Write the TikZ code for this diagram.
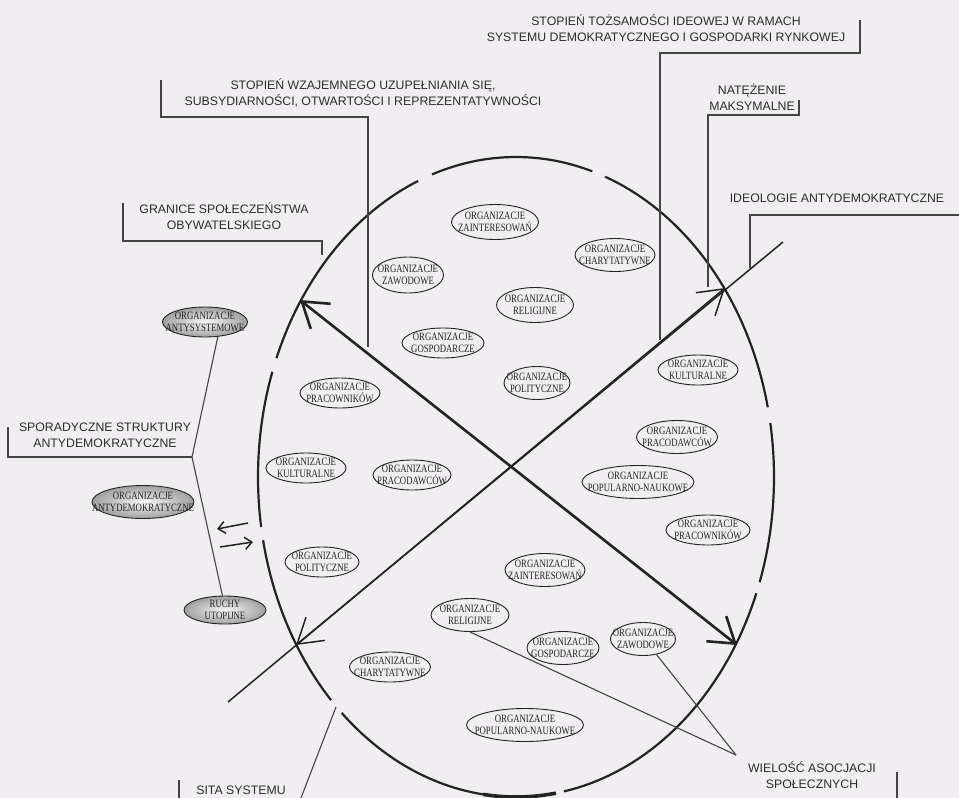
\documentclass[tikz,border=0pt]{standalone}
\usepackage{fontspec}
\setmainfont{Liberation Serif}
\newfontfamily\lblfont{Liberation Sans}
\newfontfamily\orgfont[FakeStretch=0.78]{Liberation Serif}
\usetikzlibrary{shapes.geometric, arrows.meta}
\definecolor{tlo}{RGB}{240,238,240}
\definecolor{kreska}{RGB}{35,35,35}
\definecolor{napis}{RGB}{45,45,45}

\begin{document}
\begin{tikzpicture}[x=1pt, y=-1pt,
  lbl/.style={font=\lblfont\fontsize{12.3}{16}\selectfont, text=napis, align=center, inner sep=0pt},
  lead/.style={draw=kreska!85, line width=1.1pt},
  org/.style n args={2}{ellipse, draw=kreska, line width=0.9pt, minimum width=#1, minimum height=#2, inner sep=0pt},
  orgtxt/.style={font=\orgfont\fontsize{11.2}{11.5}\selectfont, align=center, inner sep=0pt, text=kreska},
  ciemny/.style={shade, inner color=gray!5, outer color=gray!75},
  rim/.style={line width=2.2pt, draw=kreska},
  barb/.style={line width=#1, draw=kreska, -{Straight Barb[length=24pt, width=30pt]}}
]
  \useasboundingbox (0,0) rectangle (959,798);
  \fill[tlo] (0,0) rectangle (959,798);

  % granica (elipsa z przerwami)
  \coordinate (C) at (516,477);
  \foreach \a/\b in {12.6/69.8, 72.8/109, 112.3/158.2, 160.8/189, 191.4/224.2, 227.5/278.9, 280.7/338.7, 340.8/369.7}
    \draw[rim] plot[domain=\a:\b, samples=40, variable=\t] ({516+258*cos(\t)},{477-320*sin(\t)});
  \draw[rim, line width=3.6pt] plot[domain=262.7:278.9, samples=20, variable=\t] ({516+258*cos(\t)},{477-320*sin(\t)});

  % osie
  \coordinate (tl) at (300,300);
  \coordinate (br) at (737,645);
  \coordinate (ll) at (228,702);
  \coordinate (ur) at (783,242);
  \coordinate (lltip) at (296,645);
  \coordinate (urtip) at (725,288);
  \draw[line width=2.6pt, draw=kreska, {Straight Barb[length=24pt, width=32pt]}-{Straight Barb[length=24pt, width=32pt]}] (tl) -- (br);
  \draw[barb=1.5pt] (ur) -- (lltip);
  \draw[barb=1.5pt] (ll) -- (urtip);

  % strzalki na granicy
  \coordinate (wyA) at (248,523);
  \coordinate (wyB) at (217,529);
  \coordinate (weA) at (220,547);
  \coordinate (weB) at (253,542);
  \draw[line width=1.5pt, draw=kreska, -{Straight Barb[length=7pt, width=12pt]}] (wyA) -- (wyB);
  \draw[line width=1.5pt, draw=kreska, -{Straight Barb[length=7pt, width=12pt]}] (weA) -- (weB);

  % organizacje
  \node[org={87}{35}, label={[orgtxt]center:ORGANIZACJE\\ZAINTERESOWAŃ}] (zainA) at (495,222) {};
  \node[org={80}{33}, label={[orgtxt]center:ORGANIZACJE\\CHARYTATYWNE}] (charA) at (615,255) {};
  \node[org={71}{36}, label={[orgtxt]center:ORGANIZACJE\\ZAWODOWE}] (zawA) at (408,275) {};
  \node[org={77}{35}, label={[orgtxt]center:ORGANIZACJE\\RELIGIJNE}] (relA) at (535,305) {};
  \node[org={82}{30}, label={[orgtxt]center:ORGANIZACJE\\GOSPODARCZE}] (gospA) at (443,343) {};
  \node[org={66}{33}, label={[orgtxt]center:ORGANIZACJE\\POLITYCZNE}] (polA) at (537,383) {};
  \node[org={80}{30}, label={[orgtxt]center:ORGANIZACJE\\PRACOWNIKÓW}] (pracA) at (340,393) {};
  \node[org={80}{30}, label={[orgtxt]center:ORGANIZACJE\\KULTURALNE}] (kultA) at (698,370) {};
  \node[org={81}{33}, label={[orgtxt]center:ORGANIZACJE\\PRACODAWCÓW}] (pdawA) at (677,437) {};
  \node[org={112}{33}, label={[orgtxt]center:ORGANIZACJE\\POPULARNO-NAUKOWE}] (popA) at (638,482) {};
  \node[org={84}{30}, label={[orgtxt]center:ORGANIZACJE\\PRACOWNIKÓW}] (pracB) at (708,530) {};
  \node[org={80}{30}, label={[orgtxt]center:ORGANIZACJE\\KULTURALNE}] (kultB) at (306,468) {};
  \node[org={78}{30}, label={[orgtxt]center:ORGANIZACJE\\PRACODAWCÓW}] (pdawB) at (412,475) {};
  \node[org={74}{30}, label={[orgtxt]center:ORGANIZACJE\\POLITYCZNE}] (polB) at (322,562) {};
  \node[org={80}{33}, label={[orgtxt]center:ORGANIZACJE\\ZAINTERESOWAŃ}] (zainB) at (545,570) {};
  \node[org={78}{33}, label={[orgtxt]center:ORGANIZACJE\\RELIGIJNE}] (relB) at (470,615) {};
  \node[org={72}{33}, label={[orgtxt]center:ORGANIZACJE\\GOSPODARCZE}] (gospB) at (563,648) {};
  \node[org={65}{33}, label={[orgtxt]center:ORGANIZACJE\\ZAWODOWE}] (zawB) at (643,639) {};
  \node[org={81}{30}, label={[orgtxt]center:ORGANIZACJE\\CHARYTATYWNE}] (charB) at (390,667) {};
  \node[org={117}{33}, label={[orgtxt]center:ORGANIZACJE\\POPULARNO-NAUKOWE}] (popB) at (525,725) {};

  % struktury antydemokratyczne
  \node[org={85}{30}, ciemny, label={[orgtxt]center:ORGANIZACJE\\ANTYSYSTEMOWE}] (antys) at (205,322) {};
  \node[org={102}{33}, ciemny, label={[orgtxt]center:ORGANIZACJE\\ANTYDEMOKRATYCZNE}] (antyd) at (143,502) {};
  \node[org={82}{28}, ciemny, label={[orgtxt]center:RUCHY\\UTOPIJNE}] (ruchy) at (225,610) {};

  % opisy
  \node[lbl] (tozs) at (666,28) {STOPIEŃ TOŻSAMOŚCI IDEOWEJ W RAMACH\\SYSTEMU DEMOKRATYCZNEGO I GOSPODARKI RYNKOWEJ};
  \node[lbl] (wzaj) at (363,93) {STOPIEŃ WZAJEMNEGO UZUPEŁNIANIA SIĘ,\\SUBSYDIARNOŚCI, OTWARTOŚCI I REPREZENTATYWNOŚCI};
  \node[lbl] (nat) at (752,97) {NATĘŻENIE\\MAKSYMALNE};
  \node[lbl] (gran) at (224,216) {GRANICE SPOŁECZEŃSTWA\\OBYWATELSKIEGO};
  \node[lbl] (ideo) at (837,198) {IDEOLOGIE ANTYDEMOKRATYCZNE};
  \node[lbl] (spor) at (105,435) {SPORADYCZNE STRUKTURY\\ANTYDEMOKRATYCZNE};
  \node[lbl] (wiel) at (812,775) {WIELOŚĆ ASOCJACJI\\SPOŁECZNYCH};
  \node[lbl] (sita) at (241,790) {SITA SYSTEMU};

  % odnosniki
  \coordinate (tozsA) at (860,20);
  \coordinate (tozsB) at (660,340);
  \draw[lead] (tozsA) |- (660,53) -- (tozsB);
  \coordinate (wzajA) at (161,80);
  \coordinate (wzajB) at (368,347);
  \draw[lead] (wzajA) |- (368,117) -- (wzajB);
  \coordinate (natA) at (799,100);
  \coordinate (natB) at (708,287);
  \draw[lead] (natA) |- (708,115) -- (natB);
  \coordinate (granA) at (123,203);
  \coordinate (granB) at (322,255);
  \draw[lead] (granA) |- (322,241) -- (granB);
  \coordinate (ideoA) at (959,215);
  \coordinate (ideoB) at (750,268);
  \draw[lead] (ideoA) -| (ideoB);
  \coordinate (sporA) at (8,427);
  \coordinate (sporK) at (192,457);
  \draw[lead] (sporA) |- (sporK);
  \draw[lead] (sporK) -- (antys.-49);
  \draw[lead] (sporK) -- (ruchy.100);
  \coordinate (wielK) at (736,755);
  \draw[lead] (relB.south) -- (wielK);
  \draw[lead] (zawB.-49) -- (wielK);
  \coordinate (wielA) at (897,772);
  \coordinate (wielB) at (897,798);
  \draw[lead] (wielA) -- (wielB);
  \coordinate (sitaA) at (179,780);
  \coordinate (sitaB) at (179,798);
  \draw[lead] (sitaA) -- (sitaB);
  \coordinate (sitaC) at (301,798);
  \coordinate (sitaD) at (336,707);
  \draw[lead] (sitaC) -- (sitaD);
\end{tikzpicture}
\end{document}
